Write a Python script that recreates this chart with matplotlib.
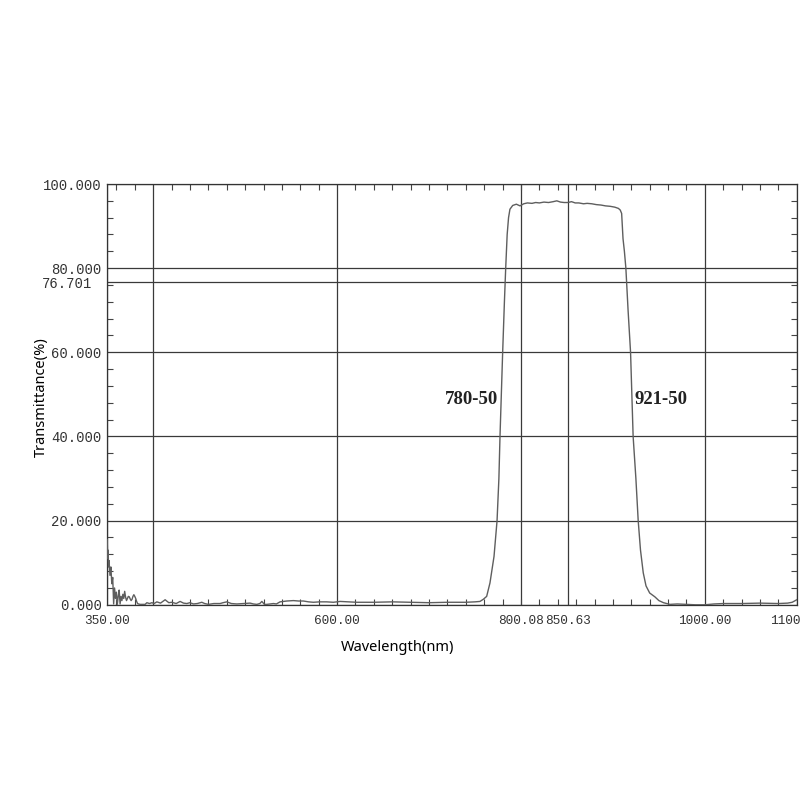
import matplotlib
matplotlib.use("Agg")
import matplotlib.pyplot as plt
from matplotlib.ticker import MultipleLocator

# ---- data ----
wavelength = [
    350, 350.5, 351, 351.5, 352, 353, 354, 355, 356, 357, 358, 359, 360, 361, 362,
    363, 364, 365, 366, 367, 368, 369, 370, 371, 372, 373, 374, 375, 376, 377, 378,
    379, 380, 381, 382, 383, 384, 385.9, 391.3, 393.1, 396, 398.6, 401, 404, 408,
    413, 417, 420.3, 425, 429.3, 433, 436.6, 440, 443.8, 448, 452.9, 456, 460.1,
    466, 472.8, 476, 480.1, 485, 491, 498, 505.4, 509, 512.7, 516, 518.2, 521,
    523.6, 527, 530.8, 534, 538, 545.3, 552.5, 558, 563.4, 569, 574.2, 581, 588.8,
    596, 603.3, 612, 621.4, 640, 660, 680, 700, 720, 740, 750, 755.4, 759, 762.7,
    766.3, 768, 770.7, 774, 776, 777.2, 778.6, 780.1, 782, 783.4, 785, 786.5, 788,
    791, 795, 799, 803, 807, 812, 816, 820, 825, 830, 835, 839, 843, 847, 851, 855,
    859, 863, 868, 872, 877, 882, 887, 892, 897, 902, 906, 908, 909.5, 911, 912.5,
    914.1, 916.5, 919.2, 920.6, 922, 925, 927.5, 930, 933, 936, 940, 945.6, 950,
    955, 962, 970, 980, 990, 1000, 1010, 1020, 1040, 1060, 1080, 1090, 1095, 1100,
]
transmittance = [
    15.5, 11, 13, 9, 10.5, 7, 9, 5, 6.5, 0.2, 4, 1.5, 3, 0.1, 2, 3.5, 0.2, 2,
    1.0, 2.5, 1.5, 3.2, 1.8, 1.0, 1.5, 2.0, 1.9, 1.4, 1.0, 1.3, 2.0, 2.4, 2.0,
    1.5, 0.8, 0.3, 0.2, 0.1, 0.1, 0.5, 0.3, 0.5, 0.3, 0.7, 0.4, 1.2, 0.5, 0.6,
    0.3, 0.8, 0.4, 0.3, 0.5, 0.2, 0.3, 0.6, 0.3, 0.1, 0.3, 0.3, 0.5, 0.7, 0.3,
    0.2, 0.3, 0.4, 0.2, 0.1, 0.3, 0.8, 0.1, 0.1, 0.2, 0.3, 0.2, 0.7, 0.9, 1.0,
    0.9, 0.9, 0.7, 0.6, 0.7, 0.7, 0.6, 0.8, 0.7, 0.6, 0.6, 0.7, 0.6, 0.5, 0.6,
    0.6, 0.7, 0.8, 1.3, 2.0, 5.2, 7.6, 11.5, 20, 30, 40, 50, 60, 72, 80, 88,
    92, 94, 94.9, 95.2, 94.8, 95.3, 95.5, 95.4, 95.6, 95.5, 95.7, 95.6, 95.8,
    96.0, 95.7, 95.6, 95.6, 95.8, 95.5, 95.5, 95.3, 95.4, 95.3, 95.1, 95.0,
    94.8, 94.7, 94.5, 94.2, 93.8, 93.0, 87, 84, 80, 70, 60, 50, 40, 30, 20, 13,
    7.6, 4.5, 2.8, 1.9, 1.0, 0.5, 0.1, 0.2, 0.1, 0.0, 0.0, 0.2, 0.3, 0.3, 0.4,
    0.3, 0.4, 0.6, 1.2,
]

x_ticks = [350, 400, 600, 800.08, 850.63, 1000, 1100]
x_tick_labels = ["350.00", "", "600.00", "800.08", "850.63", "1000.00", "1100.00"]
y_ticks = [0, 20, 40, 60, 76.701, 80, 100]
y_tick_labels = ["0.000", "20.000", "40.000", "60.000", "76.701", "80.000", "100.000"]

annotations = [("780-50", 775, 48.7, "right"), ("921-50", 924, 48.7, "left")]

# ---- figure ----
fig = plt.figure(figsize=(8, 8), dpi=100)
ax = fig.add_axes([0.134, 0.244, 0.862, 0.526])

ax.plot(wavelength, transmittance, color="#5e5e5e", lw=1.0, zorder=3)

ax.set_xlim(350, 1100)
ax.set_ylim(0, 100)

ax.set_xticks(x_ticks)
ax.set_xticklabels(x_tick_labels)
ax.set_yticks(y_ticks)
ax.set_yticklabels(y_tick_labels)
ax.xaxis.set_minor_locator(MultipleLocator(20))
ax.yaxis.set_minor_locator(MultipleLocator(4))

ax.grid(True, which="major", color="#3a3a3a", lw=0.9, zorder=1)
ax.tick_params(axis="x", which="major", length=0, pad=7, labelsize=9.2)
ax.tick_params(axis="y", which="major", length=0, pad=4, labelsize=10)
ax.tick_params(which="major", labelcolor="#333333")
ax.tick_params(which="minor", direction="in", length=4, width=0.8, color="#444444",
               top=True, right=True, bottom=True, left=True)
for lab in ax.get_xticklabels() + ax.get_yticklabels():
    lab.set_fontfamily("Liberation Mono")

# offset 76.701 label to the left
for tk, val in zip(ax.yaxis.get_major_ticks(), y_ticks):
    if abs(val - 76.701) < 1e-6:
        tk.set_pad(11)

for sp in ax.spines.values():
    sp.set_color("#333333")
    sp.set_linewidth(0.9)

ax.set_xlabel("Wavelength(nm)", fontfamily="Noto Sans", fontsize=10.5)
ax.xaxis.set_label_coords((397 - 107) / 690, -(640 - 605) / 421)
ax.set_ylabel("Transmittance(%)", fontfamily="Noto Sans", fontsize=10.5)
ax.yaxis.set_label_coords((49 - 107) / 690, (605 - 397) / 421)

for txt, xv, yv, ha in annotations:
    ax.text(xv, yv, txt, ha=ha, va="center", fontfamily="Liberation Serif",
            fontweight="bold", fontsize=13.5, color="#222222", zorder=4)

fig.savefig("out.png", dpi=100, facecolor="white")
